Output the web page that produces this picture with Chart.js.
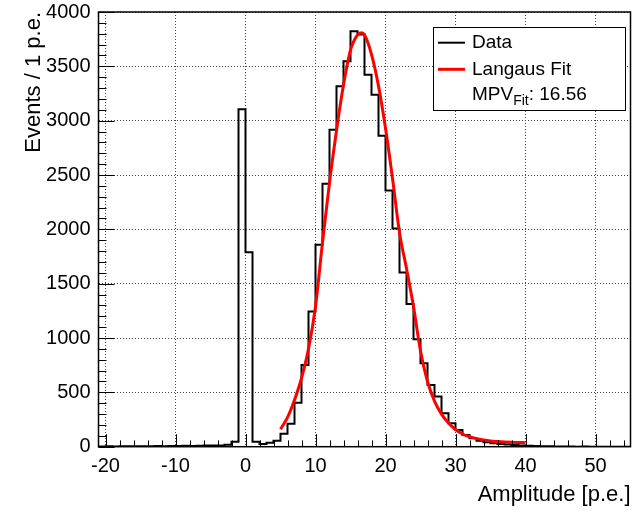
<!DOCTYPE html>
<html><head><meta charset="utf-8">
<script src="https://cdn.jsdelivr.net/npm/chart.js@4/dist/chart.umd.min.js"></script>
<style>html,body{margin:0;padding:0;background:#fff}#wrap{width:634px;height:511px}</style>
</head><body><div id="wrap"><canvas id="c" width="634" height="511"></canvas></div>
<script>
// ---- data ----
const binStart = -21;          // low edge of first bin [p.e.]
const binWidth = 1;            // 1 p.e. per bin
const counts = [
  2, 3, 2, 4, 3, 4, 5, 4, 6, 5, 7, 6, 8, 7, 9, 10, 11, 12,   // -21 .. -4
  17, 46, 3105, 1790, 46, 25, 37, 55, 120, 212,              // -3 .. 6
  405, 752, 1243, 1858, 2419, 2917, 3316, 3546, 3822, 3792,  // 7 .. 16
  3423, 3239, 2862, 2358, 2008, 1603, 1314, 989, 768, 568,   // 17 .. 26
  461, 307, 215, 154, 108, 77, 55, 40, 31, 25,               // 27 .. 36
  20, 15, 12, 9, 6, 4, 3, 2, 1, 1,                           // 37 .. 46
  0, 1, 0, 0, 0, 0, 0, 0                                     // 47 .. 54
];
const fitX = [5, 6, 7, 8, 9, 10, 11, 12, 13, 14, 15, 16, 16.56, 17, 18, 19, 20, 21, 22, 23, 24, 25,
              26, 27, 28, 29, 30, 31, 32, 33, 34, 35, 36, 37, 38, 39, 40];
const fitY = [160, 270, 430, 630, 900, 1290, 1880, 2430, 2910, 3330, 3650, 3790, 3810, 3790, 3610, 3320,
              2930, 2470, 1970, 1640, 1290, 880, 600, 420, 300, 218, 158, 117, 92, 74, 62, 53, 48, 44, 41, 39, 37];
const xMin = -21, xMax = 55, xMajor = 10, xMinor = 2;
const yMin = 0, yMax = 4000, yMajor = 500, yMinor = 100;
const xTitle = 'Amplitude [p.e.]';
const yTitle = 'Events / 1 p.e.';
const mpvLabel = 'MPV', mpvSub = 'Fit', mpvValue = ': 16.56';

const FONT = "'Liberation Sans', Arial, Helvetica, sans-serif";
Chart.defaults.font.family = FONT;
Chart.defaults.color = '#000';

const dataPts = counts.map((c, i) => ({x: binStart + i * binWidth, y: c}));
dataPts.push({x: binStart + counts.length * binWidth, y: counts[counts.length - 1]});
const fitPts = fitX.map((x, i) => ({x: x, y: fitY[i]}));

const rootDecor = {
  id: 'rootDecor',
  afterDraw(chart) {
    const ctx = chart.ctx, a = chart.chartArea, xs = chart.scales.x, ys = chart.scales.y;
    ctx.save();
    ctx.strokeStyle = '#000';
    ctx.lineWidth = 1;
    ctx.beginPath();
    for (let v = Math.ceil(xMin / xMinor) * xMinor; v <= xMax; v += xMinor) {
      const px = Math.round(xs.getPixelForValue(v)) + 0.5;
      const len = (v % xMajor === 0) ? 12.5 : 6.3;
      ctx.moveTo(px, a.bottom); ctx.lineTo(px, a.bottom - len);
    }
    for (let v = yMin; v <= yMax; v += yMinor) {
      const py = Math.round(ys.getPixelForValue(v)) + 0.5;
      const len = (v % yMajor === 0) ? 16 : 8;
      ctx.moveTo(a.left, py); ctx.lineTo(a.left + len, py);
    }
    ctx.stroke();
    ctx.lineWidth = 1.5;
    ctx.strokeRect(a.left, a.top, a.right - a.left, a.bottom - a.top);

    // legend box
    const bx = 433, by = 27, bw = 192, bh = 83;
    ctx.fillStyle = '#fff';
    ctx.fillRect(bx, by, bw, bh);
    ctx.lineWidth = 1;
    ctx.strokeStyle = '#000';
    ctx.strokeRect(bx + 0.5, by + 0.5, bw, bh);
    const dsData = chart.data.datasets[1], dsFit = chart.data.datasets[0];
    const rows = [42.7, 69.3, 95];
    ctx.textBaseline = 'middle';
    ctx.textAlign = 'left';
    ctx.font = '19px ' + FONT;
    ctx.strokeStyle = dsData.borderColor; ctx.lineWidth = 2;
    ctx.beginPath(); ctx.moveTo(438, rows[0]); ctx.lineTo(465, rows[0]); ctx.stroke();
    ctx.fillStyle = '#000';
    ctx.fillText(dsData.label, 472, rows[0]);
    ctx.strokeStyle = dsFit.borderColor; ctx.lineWidth = 3;
    ctx.beginPath(); ctx.moveTo(438, rows[1]); ctx.lineTo(465, rows[1]); ctx.stroke();
    ctx.fillText(dsFit.label, 472, rows[1]);
    let tx = 472;
    ctx.fillText(mpvLabel, tx, rows[2]);
    tx += ctx.measureText(mpvLabel).width;
    ctx.font = '14px ' + FONT;
    ctx.fillText(mpvSub, tx, rows[2] + 6);
    tx += ctx.measureText(mpvSub).width;
    ctx.font = '19px ' + FONT;
    ctx.fillText(mpvValue, tx, rows[2]);
    ctx.restore();
  }
};

new Chart(document.getElementById('c'), {
  type: 'line',
  data: {
    datasets: [
      {label: 'Langaus Fit', data: fitPts, borderColor: '#ff0000', borderWidth: 3, pointRadius: 0,
       cubicInterpolationMode: 'monotone', fill: false, order: 0},
      {label: 'Data', data: dataPts, borderColor: '#000000', borderWidth: 2, pointRadius: 0,
       stepped: 'before', fill: false, order: 1}
    ]
  },
  options: {
    responsive: false, animation: false, devicePixelRatio: 1,
    layout: {padding: {top: 12, right: 3.5, left: 0, bottom: 0}},
    plugins: {legend: {display: false}, tooltip: {enabled: false}},
    scales: {
      x: {
        type: 'linear', min: xMin, max: xMax,
        ticks: {stepSize: xMajor, includeBounds: false, autoSkip: false, maxRotation: 0,
                color: '#000', font: {size: 20}, padding: 8, callback: v => String(v)},
        grid: {color: '#444', lineWidth: 1, drawTicks: false, borderDash: [1, 2]},
        border: {display: false, dash: [1, 2]},
        title: {display: true, text: xTitle, align: 'end', color: '#000', font: {size: 22}, padding: {top: 0, bottom: 3}},
        afterFit(s) { s.height = 64.3; s.paddingLeft = 0; s.paddingRight = 0; }
      },
      y: {
        type: 'linear', min: yMin, max: yMax,
        ticks: {stepSize: yMajor, autoSkip: false, color: '#000', font: {size: 20}, padding: 8, callback: v => String(v)},
        grid: {color: '#444', lineWidth: 1, drawTicks: false, borderDash: [1, 2]},
        border: {display: false, dash: [1, 2]},
        title: {display: true, text: yTitle, align: 'end', color: '#000', font: {size: 22}, padding: {top: 21, bottom: 0}},
        afterFit(s) { s.width = 98.5; s.paddingTop = 0; s.paddingBottom = 0; }
      }
    }
  },
  plugins: [rootDecor]
});
</script>
</body></html>
